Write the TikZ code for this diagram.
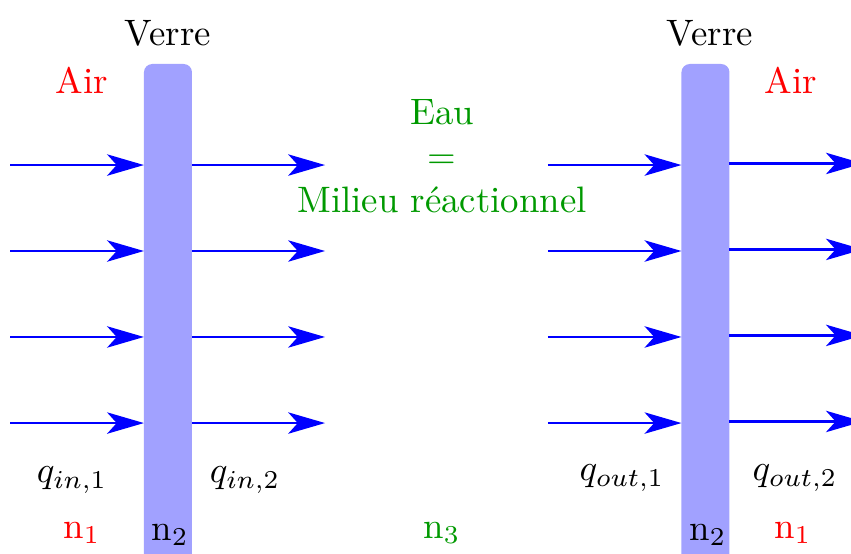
\documentclass[tikz,border=0pt]{standalone}
\usepackage{fontspec}
\usepackage{tikz}
\usetikzlibrary{arrows.meta, positioning, calc}
\definecolor{vertmilieu}{RGB}{0,153,0}

\tikzset{
  verre/.style={fill=blue!37, rounded corners=0.08cm, minimum width=0.459cm,
    minimum height=4.9cm, inner sep=0pt, outer sep=0pt, anchor=north},
  flux/.style={blue, line width=0.7pt, -{Stealth[length=10pt, width=5.8pt, inset=2.6pt]}},
}

\begin{document}
\begin{tikzpicture}
  \clip (0,0) rectangle (8.127,-5.281);
  % les deux vitres
  \node[verre] (verreG) at (1.604,-0.611) {};
  \node[verre] (verreD) at (6.737,-0.611) {};
  % flux de photons
  \foreach \y [count=\i] in {-1.576,-2.397,-3.218,-4.040} {
    \coordinate (g\i) at (0.0955,\y);
    \coordinate (m\i) at (3.104,\y);
    \coordinate (e\i) at (5.233,\y);
    \coordinate (d\i) at (8.24,\y+0.015);
    \draw[flux] (g\i) -- (verreG.west |- g\i);
    \draw[flux] (verreG.east |- m\i) -- (m\i);
    \draw[flux] (e\i) -- (verreD.west |- e\i);
    \draw[flux] (verreD.east |- d\i) -- (d\i);
  }
  % textes
  \node (txtverreG) at (1.604,-0.315) {Verre};
  \node (txtverreD) at (6.78,-0.315) {Verre};
  \node[red] (airG) at (0.783,-0.764) {Air};
  \node[red] (airD) at (7.554,-0.764) {Air};
  \node[vertmilieu, align=center] (eau) at (4.221,-1.49) {Eau\\=\\Milieu réactionnel};
  \node (qin1) at (0.688,-4.584) {$q_{in,1}$};
  \node (qin2) at (2.34,-4.584) {$q_{in,2}$};
  \node (qout1) at (5.94,-4.565) {$q_{out,1}$};
  \node (qout2) at (7.592,-4.565) {$q_{out,2}$};
  \node[red] (n1G) at (0.783,-5.09) {n$_1$};
  \node (n2G) at (1.624,-5.109) {n$_2$};
  \node[vertmilieu] (n3) at (4.221,-5.09) {n$_3$};
  \node (n2D) at (6.761,-5.109) {n$_2$};
  \node[red] (n1D) at (7.573,-5.09) {n$_1$};
\end{tikzpicture}
\end{document}
